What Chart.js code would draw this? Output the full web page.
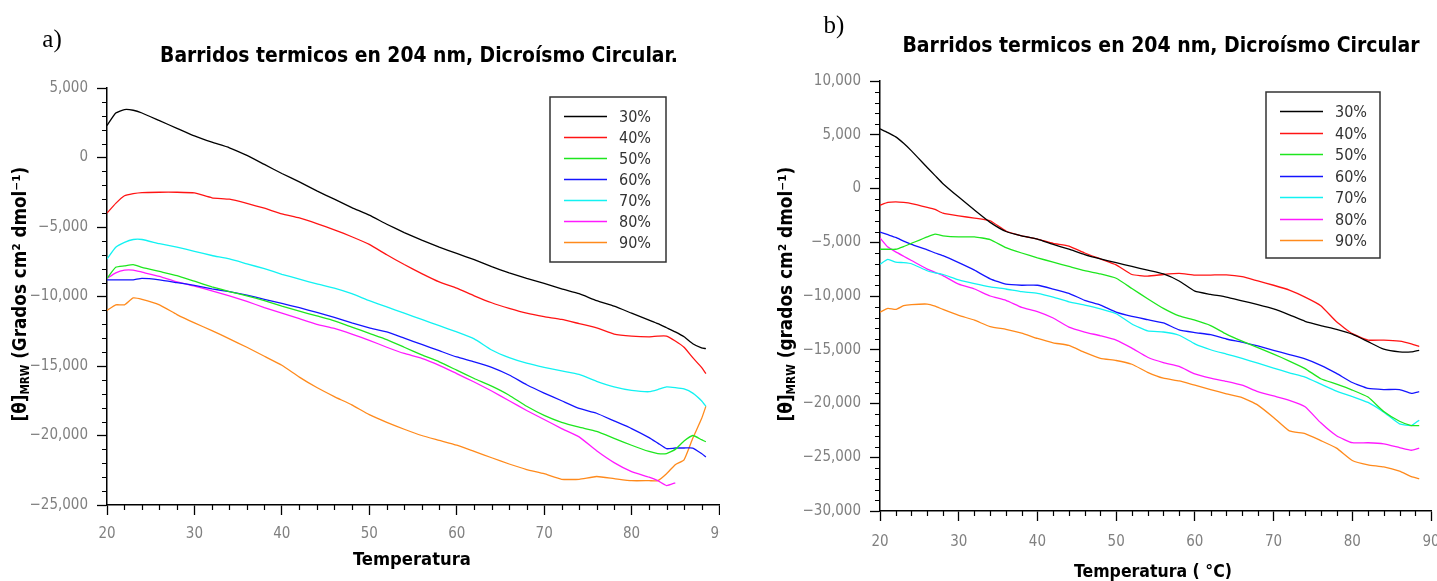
<!DOCTYPE html>
<html>
<head>
<meta charset="utf-8">
<script src="https://cdn.jsdelivr.net/npm/chart.js@4.4.0/dist/chart.umd.min.js"></script>
<style>
  html, body { margin:0; padding:0; background:#fff; }
  #wrap { position:relative; width:1437px; height:581px; overflow:hidden; }
  canvas { position:absolute; top:0; }
  #chartA { left:0; }
  #chartB { left:720px; }
</style>
</head>
<body>
<div id="wrap">
  <canvas id="chartA" width="720" height="581"></canvas>
  <canvas id="chartB" width="717" height="581"></canvas>
</div>
<script>
// series names + colours (shared by both panels)
const seriesLabels = ['30%','40%','50%','60%','70%','80%','90%'];
const seriesColors = ['#000000','#ff1414','#1ee61e','#1414ff','#12f2f2','#ff1aff','#ff8a1c'];

// panel a) temperatures (°C)
const tempsA = [20,21,22,23,24,26,28,30,32,34,36,38,40,42,44,46,48,50,52,54,56,58,60,62,64,66,68,70,72,74,76,78,80,82,83,84,85,86,87,88,88.5];
const a30 = [2300,3200,3450,3400,3200,2650,2100,1550,1100,700,150,-500,-1150,-1750,-2400,-3000,-3600,-4150,-4800,-5400,-5950,-6450,-6900,-7350,-7850,-8300,-8700,-9050,-9450,-9800,-10300,-10700,-11200,-11700,-11950,-12250,-12550,-12900,-13400,-13700,-13750];
const a40 = [-4000,-3300,-2750,-2600,-2520,-2500,-2500,-2550,-2900,-3000,-3300,-3650,-4050,-4350,-4750,-5200,-5700,-6250,-7000,-7700,-8350,-8950,-9400,-9950,-10450,-10850,-11200,-11450,-11650,-11950,-12250,-12700,-12850,-12900,-12850,-12850,-13200,-13650,-14400,-15100,-15550];
const a50 = [-8700,-7900,-7800,-7700,-7900,-8200,-8500,-8900,-9300,-9650,-9950,-10300,-10700,-11050,-11400,-11750,-12200,-12650,-13100,-13650,-14200,-14700,-15300,-15900,-16450,-17100,-17900,-18550,-19050,-19400,-19700,-20200,-20700,-21150,-21300,-21300,-21000,-20400,-20000,-20300,-20450];
const a60 = [-8800,-8800,-8800,-8800,-8700,-8800,-9000,-9200,-9450,-9650,-9900,-10200,-10500,-10800,-11150,-11500,-11900,-12250,-12550,-13000,-13450,-13900,-14350,-14700,-15100,-15650,-16350,-16950,-17500,-18050,-18400,-18950,-19500,-20150,-20550,-20950,-20900,-20900,-20900,-21300,-21550];
const a70 = [-7300,-6450,-6100,-5900,-5900,-6200,-6450,-6750,-7050,-7300,-7650,-8000,-8400,-8750,-9100,-9400,-9800,-10300,-10750,-11200,-11650,-12100,-12550,-13050,-13850,-14400,-14800,-15100,-15350,-15600,-16100,-16500,-16750,-16850,-16700,-16500,-16550,-16650,-16950,-17500,-17900];
const a80 = [-8700,-8300,-8100,-8100,-8250,-8550,-8950,-9250,-9600,-9950,-10350,-10800,-11200,-11600,-12000,-12300,-12700,-13150,-13650,-14100,-14450,-14950,-15550,-16150,-16800,-17500,-18200,-18850,-19500,-20100,-21100,-21950,-22600,-23000,-23250,-23600,-23400,null,null,null,null];
const a90 = [-11000,-10600,-10600,-10100,-10200,-10600,-11300,-11900,-12450,-13050,-13650,-14300,-14950,-15800,-16550,-17200,-17800,-18500,-19050,-19550,-20000,-20350,-20700,-21150,-21600,-22050,-22450,-22750,-23150,-23150,-22950,-23100,-23250,-23250,-23250,-22750,-22100,-21750,-20200,-18800,-17900];

// panel b) temperatures (°C)
const tempsB = [20,21,22,23,24,26,27,28,30,32,34,36,38,40,42,44,46,48,50,52,54,56,58,60,62,64,66,68,70,72,74,76,78,80,82,84,86,87.5,88.5];
const b30 = [5550,5200,4800,4200,3500,1950,1200,450,-800,-2000,-3150,-4000,-4400,-4700,-5200,-5650,-6150,-6550,-6900,-7250,-7600,-7950,-8600,-9550,-9850,-10100,-10450,-10800,-11200,-11750,-12350,-12750,-13100,-13550,-14250,-14950,-15200,-15200,-15050];
const b40 = [-1550,-1300,-1250,-1300,-1400,-1750,-1950,-2300,-2550,-2750,-3000,-3950,-4400,-4700,-5100,-5350,-6000,-6550,-7100,-8000,-8150,-8000,-7900,-8050,-8050,-8030,-8200,-8600,-9000,-9450,-10100,-10900,-12400,-13500,-14100,-14100,-14200,-14450,-14700];
const b50 = [-5650,-5650,-5650,-5400,-5100,-4500,-4250,-4400,-4500,-4500,-4750,-5500,-6000,-6450,-6850,-7250,-7650,-7950,-8350,-9300,-10250,-11150,-11850,-12250,-12750,-13550,-14200,-14800,-15400,-16050,-16750,-17700,-18200,-18750,-19400,-20750,-21650,-22050,-22050];
const b60 = [-4050,-4300,-4550,-4900,-5200,-5700,-6000,-6250,-6900,-7600,-8400,-8900,-9000,-9000,-9350,-9750,-10400,-10850,-11500,-11900,-12200,-12500,-13150,-13400,-13600,-14000,-14300,-14650,-15050,-15450,-15850,-16450,-17200,-18050,-18600,-18700,-18700,-19050,-18900];
const b70 = [-7050,-6600,-6850,-6900,-7000,-7650,-7850,-8000,-8500,-8850,-9150,-9350,-9600,-9750,-10100,-10550,-10850,-11200,-11650,-12600,-13250,-13350,-13650,-14450,-15000,-15400,-15800,-16250,-16700,-17150,-17550,-18200,-18850,-19350,-19900,-20800,-21900,-22050,-21550];
const b80 = [-4600,-5450,-5900,-6300,-6700,-7500,-7800,-8100,-8900,-9350,-10000,-10400,-11050,-11450,-12050,-12900,-13350,-13700,-14100,-14850,-15700,-16200,-16550,-17250,-17650,-17950,-18300,-18900,-19300,-19700,-20300,-21800,-23000,-23650,-23650,-23750,-24100,-24350,-24150];
const b90 = [-11500,-11150,-11250,-10900,-10800,-10750,-10950,-11250,-11800,-12250,-12850,-13100,-13450,-13950,-14350,-14600,-15250,-15800,-16000,-16350,-17100,-17650,-17900,-18300,-18700,-19100,-19450,-20150,-21300,-22550,-22800,-23450,-24150,-25300,-25700,-25900,-26300,-26800,-27000];

const FONT = "'DejaVu Sans Condensed','Liberation Sans Narrow','Open Sans',sans-serif";
const SERIF = "'Liberation Serif','DejaVu Serif',serif";

function fmt(v){ return Number(v).toLocaleString('en-US').replace('-', '\u2212'); }

// font size that makes text span a given width
function fitSize(ctx, text, weight, family, targetW){
  ctx.font = weight + ' 20px ' + family;
  return 20 * targetW / ctx.measureText(text).width;
}

// short minor ticks (major ones come from the scale grid)
const minorTicks = {
  id: 'minorTicks',
  afterDraw(chart){
    const {ctx, scales:{x, y}} = chart;
    ctx.save();
    ctx.strokeStyle = '#000'; ctx.lineWidth = 1.2;
    ctx.beginPath();
    for (let v = x.min; v <= x.max; v += 2){
      if (v % 10 === 0) continue;
      const px = Math.round(x.getPixelForValue(v)) + 0.5;
      ctx.moveTo(px, y.bottom); ctx.lineTo(px, y.bottom + 5);
    }
    for (let v = y.min; v <= y.max; v += 1000){
      if (v % 5000 === 0) continue;
      const py = Math.round(y.getPixelForValue(v)) + 0.5;
      ctx.moveTo(x.left, py); ctx.lineTo(x.left - 5, py);
    }
    ctx.stroke();
    ctx.restore();
  }
};

// boxed legend inside the plot
const boxLegend = {
  id: 'boxLegend',
  afterDraw(chart, args, o){
    const {ctx, chartArea:a} = chart;
    const bx = a.left + o.dx, by = a.top + o.dy;
    ctx.save();
    ctx.fillStyle = '#fff'; ctx.fillRect(bx, by, o.w, o.h);
    ctx.strokeStyle = '#333'; ctx.lineWidth = 1.5; ctx.strokeRect(bx, by, o.w, o.h);
    ctx.font = '16px ' + FONT; ctx.textBaseline = 'middle';
    chart.data.datasets.forEach((ds, i)=>{
      const yy = Math.round(by + o.first + i * o.gap) + 0.5;
      ctx.strokeStyle = ds.borderColor; ctx.lineWidth = 1.5;
      ctx.beginPath(); ctx.moveTo(bx + 14, yy); ctx.lineTo(bx + 57, yy); ctx.stroke();
      ctx.fillStyle = '#333'; ctx.fillText(ds.label, bx + 69, yy + 1);
    });
    ctx.restore();
  }
};

// titles, panel letter, axis titles
const panelText = {
  id: 'panelText',
  afterDraw(chart, args, o){
    const ctx = chart.ctx;
    ctx.save();
    ctx.textAlign = 'center'; ctx.textBaseline = 'middle'; ctx.fillStyle = '#000';
    // panel letter
    ctx.font = '25px ' + SERIF;
    ctx.fillText(o.letter, o.letterX, o.letterY);
    // title
    let s = fitSize(ctx, o.title, 'bold', FONT, o.titleW);
    ctx.font = 'bold ' + s.toFixed(2) + 'px ' + FONT;
    ctx.fillText(o.title, o.titleX, o.titleY);
    // x axis title
    s = fitSize(ctx, o.xTitle, 'bold', FONT, o.xTitleW);
    ctx.font = 'bold ' + s.toFixed(2) + 'px ' + FONT;
    ctx.fillText(o.xTitle, o.xTitleX, o.xTitleY);
    // y axis title with subscript MRW
    const parts = [['[\u03b8]', 1, 0], ['MRW', 0.62, 0.28], [o.yUnit, 1, 0]];
    let base = 20, w = 0;
    parts.forEach(p=>{ ctx.font = 'bold ' + (base*p[1]) + 'px ' + FONT; w += ctx.measureText(p[0]).width; });
    base = base * o.yTitleW / w;
    ctx.translate(o.yTitleX, o.yTitleY);
    ctx.rotate(-Math.PI/2);
    ctx.textAlign = 'left';
    let cx = -o.yTitleW / 2;
    parts.forEach(p=>{
      ctx.font = 'bold ' + (base*p[1]).toFixed(2) + 'px ' + FONT;
      ctx.fillText(p[0], cx, p[2]*base);
      cx += ctx.measureText(p[0]).width;
    });
    ctx.restore();
  }
};

function makeDatasets(temps, rows){
  return rows.map((vals, i)=>({
    label: seriesLabels[i],
    data: temps.map((t, j)=>({x: t, y: vals[j]})),
    borderColor: seriesColors[i],
    backgroundColor: seriesColors[i],
    borderWidth: 1.3,
    pointRadius: 0,
    tension: 0.15,
    fill: false,
    spanGaps: false
  }));
}

function makeChart(id, temps, rows, cfg){
  return new Chart(document.getElementById(id), {
    type: 'line',
    data: { datasets: makeDatasets(temps, rows) },
    options: {
      responsive: false,
      animation: false,
      layout: { padding: { top: cfg.top, left: 0, right: cfg.right, bottom: 0 } },
      plugins: {
        legend: { display: false },
        tooltip: { enabled: false },
        boxLegend: cfg.legend,
        panelText: cfg.text
      },
      scales: {
        x: {
          type: 'linear', min: 20, max: 90,
          afterFit(s){ s.height = cfg.xH; s.paddingLeft = 0; s.paddingRight = 0; },
          ticks: { stepSize: 10, color: '#808080', font: { family: FONT, size: 15 }, padding: cfg.xPad, maxRotation: 0, autoSkip: false },
          grid: { drawOnChartArea: false, tickLength: 10, color: '#000', tickWidth: 1.3 },
          border: { color: '#000', width: 1.5 }
        },
        y: {
          type: 'linear', min: cfg.ymin, max: cfg.ymax,
          afterFit(s){ s.width = cfg.yW; s.paddingTop = 0; s.paddingBottom = 0; },
          ticks: { stepSize: 5000, color: '#808080', font: { family: FONT, size: 15 }, padding: 9, callback: fmt },
          grid: { drawOnChartArea: false, tickLength: 10, color: '#000', tickWidth: 1.3 },
          border: { color: '#000', width: 1.5 }
        }
      }
    },
    plugins: [minorTicks, boxLegend, panelText]
  });
}

makeChart('chartA', tempsA, [a30,a40,a50,a60,a70,a80,a90], {
  top: 88, right: 1, xH: 76, yW: 107, xPad: 10, ymin: -25000, ymax: 5000,
  legend: { dx: 443, dy: 9, w: 116, h: 165, first: 19, gap: 21 },
  text: {
    letter: 'a)', letterX: 52, letterY: 40,
    title: 'Barridos termicos en 204 nm, Dicroísmo Circular.', titleX: 419, titleY: 57, titleW: 518,
    xTitle: 'Temperatura', xTitleX: 412, xTitleY: 560, xTitleW: 118,
    yUnit: ' (Grados cm\u00b2 dmol\u207b\u00b9)', yTitleX: 21, yTitleY: 294, yTitleW: 255
  }
});

makeChart('chartB', tempsB, [b30,b40,b50,b60,b70,b80,b90], {
  top: 81, right: 6, xH: 70, yW: 160, xPad: 12, ymin: -30000, ymax: 10000,
  legend: { dx: 386, dy: 11, w: 114, h: 166, first: 19, gap: 21.5 },
  text: {
    letter: 'b)', letterX: 114, letterY: 26,
    title: 'Barridos termicos en 204 nm, Dicroísmo Circular', titleX: 441, titleY: 47, titleW: 517,
    xTitle: 'Temperatura ( \u00b0C)', xTitleX: 433, xTitleY: 572, xTitleW: 158,
    yUnit: ' (grados cm\u00b2 dmol\u207b\u00b9)', yTitleX: 67, yTitleY: 294, yTitleW: 255
  }
});
</script>
</body>
</html>
